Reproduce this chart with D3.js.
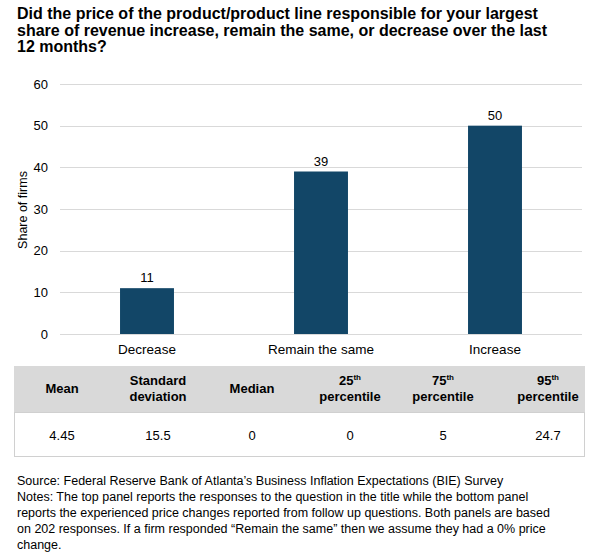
<!DOCTYPE html>
<html>
<head>
<meta charset="utf-8">
<script src="https://cdn.jsdelivr.net/npm/d3@7"></script>
<style>
  body { margin: 0; background: #fff; }
  svg text { font-family: Arial, "Liberation Sans", sans-serif; fill: #000; }
</style>
</head>
<body>
<div id="chart"></div>
<script>
"use strict";

/* Data */
let titleLines = [
  "Did the price of the product/product line responsible for your largest",
  "share of revenue increase, remain the same, or decrease over the last",
  "12 months?"
];
let categories = ["Decrease", "Remain the same", "Increase"];
let shares = [11, 39, 50];
let yTicks = [0, 10, 20, 30, 40, 50, 60];
let statHeaders = [
  ["Mean"],
  ["Standard", "deviation"],
  ["Median"],
  ["25th", "percentile"],
  ["75th", "percentile"],
  ["95th", "percentile"]
];
let statValues = ["4.45", "15.5", "0", "0", "5", "24.7"];
let noteLines = [
  "Source: Federal Reserve Bank of Atlanta\u2019s Business Inflation Expectations (BIE) Survey",
  "Notes: The top panel reports the responses to the question in the title while the bottom panel",
  "reports the experienced price changes reported from follow up questions. Both panels are based",
  "on 202 responses. If a firm responded \u201cRemain the same\u201d then we assume they had a 0% price",
  "change."
];

/* SVG setup */
let svgWidth = 600;
let svgHeight = 554;

let svg = d3.select("#chart")
  .append("svg")
  .attr("width", svgWidth)
  .attr("height", svgHeight);

/* Title */
svg.append("text")
  .attr("x", 17)
  .attr("y", 19)
  .style("font-size", "16px")
  .style("font-weight", "bold")
  .selectAll("tspan")
  .data(titleLines)
  .join("tspan")
  .attr("x", 17)
  .attr("dy", (d, i) => i === 0 ? 0 : 16.5)
  .text(d => d);

/* Scales */
let plotLeft = 60, plotRight = 582;
let yScale = d3.scaleLinear().domain([0, 60]).range([334, 84]);
let xScale = d3.scaleBand()
  .domain(categories)
  .range([plotLeft, plotRight])
  .paddingInner(0.69)
  .paddingOuter(0.345);

/* Gridlines */
svg.append("g")
  .selectAll("line")
  .data(yTicks)
  .join("line")
  .attr("x1", plotLeft)
  .attr("x2", plotRight)
  .attr("y1", d => Math.round(yScale(d)) + 0.5)
  .attr("y2", d => Math.round(yScale(d)) + 0.5)
  .attr("stroke", "#d9d9d9")
  .attr("stroke-width", 1);

/* Y axis labels */
let yAxis = svg.append("g")
  .attr("transform", "translate(" + (plotLeft - 10) + ",0)")
  .call(d3.axisLeft(yScale).tickValues(yTicks).tickSize(0).tickPadding(2));
yAxis.select(".domain").remove();
yAxis.selectAll("text")
  .style("font-size", "13px")
  .attr("fill", "#000");

svg.append("text")
  .attr("transform", "rotate(-90)")
  .attr("x", -210)
  .attr("y", 27)
  .attr("text-anchor", "middle")
  .style("font-size", "12.5px")
  .text("Share of firms");

/* Bars */
svg.append("g")
  .selectAll("rect")
  .data(shares)
  .join("rect")
  .attr("x", (d, i) => xScale(categories[i]))
  .attr("y", d => yScale(d))
  .attr("width", xScale.bandwidth())
  .attr("height", d => yScale(0) - yScale(d))
  .attr("fill", "#124667");

/* Bar labels */
svg.append("g")
  .selectAll("text")
  .data(shares)
  .join("text")
  .attr("x", (d, i) => xScale(categories[i]) + xScale.bandwidth() / 2)
  .attr("y", d => yScale(d) - 6)
  .attr("text-anchor", "middle")
  .style("font-size", "13px")
  .text(d => d);

/* X axis labels */
let xAxis = svg.append("g")
  .attr("transform", "translate(0," + yScale(0) + ")")
  .call(d3.axisBottom(xScale).tickSize(0).tickPadding(10));
xAxis.select(".domain").remove();
xAxis.selectAll("text")
  .style("font-size", "13.5px")
  .attr("fill", "#000");

/* Stats table */
let tableLeft = 14, tableRight = 585;
let headTop = 366, headBottom = 412, bodyBottom = 457;
let colCenters = [62, 158, 252, 350, 443, 548];

svg.append("rect")
  .attr("x", tableLeft)
  .attr("y", headTop)
  .attr("width", tableRight - tableLeft)
  .attr("height", headBottom - headTop)
  .attr("fill", "#d9d9d9");

svg.append("rect")
  .attr("x", tableLeft + 0.5)
  .attr("y", headBottom + 0.5)
  .attr("width", tableRight - tableLeft - 1)
  .attr("height", bodyBottom - headBottom - 1)
  .attr("fill", "none")
  .attr("stroke", "#d0d0d0");

for (let i = 0; i < statHeaders.length; i++) {
  let lines = statHeaders[i];
  let firstY = lines.length === 1 ? 393 : 385;
  for (let j = 0; j < lines.length; j++) {
    let t = svg.append("text")
      .attr("x", colCenters[i])
      .attr("y", firstY + j * 16)
      .attr("text-anchor", "middle")
      .style("font-size", "13px")
      .style("font-weight", "bold");
    let m = lines[j].match(/^(\d+)(th)$/);
    if (m) {
      t.append("tspan").text(m[1]);
      t.append("tspan")
        .attr("dy", -5)
        .style("font-size", "8px")
        .text(m[2]);
    } else {
      t.text(lines[j]);
    }
  }
  svg.append("text")
    .attr("x", colCenters[i])
    .attr("y", 440)
    .attr("text-anchor", "middle")
    .style("font-size", "13px")
    .text(statValues[i]);
}

/* Notes */
svg.append("text")
  .attr("x", 17)
  .attr("y", 485)
  .style("font-size", "12.5px")
  .selectAll("tspan")
  .data(noteLines)
  .join("tspan")
  .attr("x", 17)
  .attr("dy", (d, i) => i === 0 ? 0 : 16)
  .text(d => d);
</script>
</body>
</html>
